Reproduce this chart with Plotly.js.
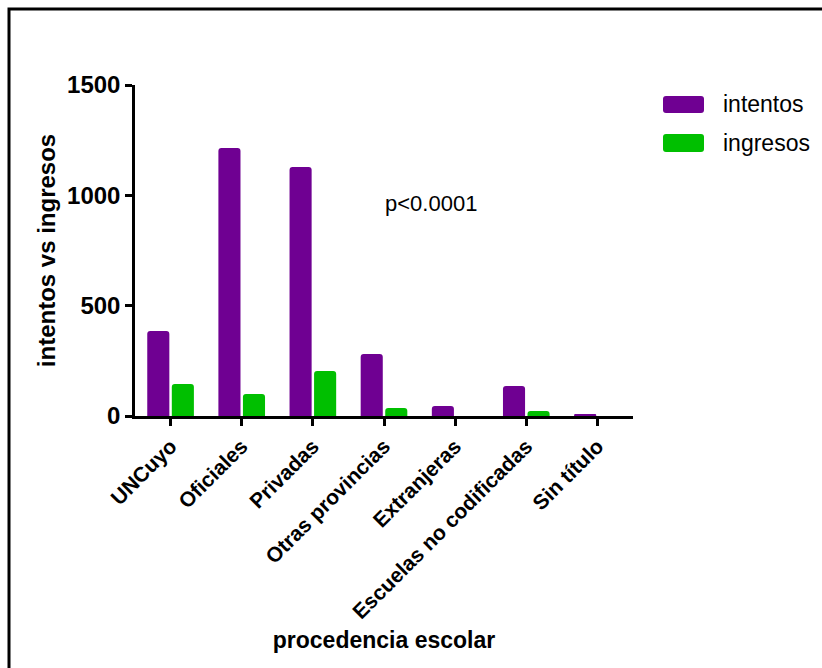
<!DOCTYPE html>
<html>
<head>
<meta charset="utf-8">
<script src="https://cdn.plot.ly/plotly-3.0.1.min.js"></script>
<style>
  html, body { margin: 0; padding: 0; background: #fff; }
  #chart { width: 822px; height: 668px; }
</style>
</head>
<body>
<div id="chart"></div>
<script>
const categories = ["UNCuyo", "Oficiales", "Privadas", "Otras provincias", "Extranjeras", "Escuelas no codificadas", "Sin título"];
const intentos = [385, 1215, 1128, 281, 45, 136, 8];
const ingresos = [145, 100, 204, 36, 0, 23, 0];
const seriesNames = ["intentos", "ingresos"];
const seriesColors = ["#6f0092", "#00bf00"];
const yTicks = [0, 500, 1000, 1500];

const FONT = "Liberation Sans, Arial, Helvetica, sans-serif";

const traces = [intentos, ingresos].map((vals, i) => ({
  type: "bar",
  name: seriesNames[i],
  x: categories,
  y: vals,
  marker: { color: seriesColors[i], cornerradius: 3, line: { width: 0 } },
  showlegend: false,
  hoverinfo: "x+y+name"
}));

// plot area geometry (px) used to convert decorative items to paper coords
const L = 135, R = 633, T = 85, B = 416;
const px = v => (v - L) / (R - L);
const py = v => (B - v) / (B - T);

function roundRect(x0, y0, x1, y1, r) {
  const rx = r / (R - L), ry = r / (B - T);
  const a = px(x0), b = px(x1), top = py(y0), bot = py(y1);
  return `M ${a + rx},${top} L ${b - rx},${top} Q ${b},${top} ${b},${top - ry} ` +
         `L ${b},${bot + ry} Q ${b},${bot} ${b - rx},${bot} L ${a + rx},${bot} ` +
         `Q ${a},${bot} ${a},${bot + ry} L ${a},${top - ry} Q ${a},${top} ${a + rx},${top} Z`;
}

const shapes = [
  // outer frame (left and top edges visible)
  { type: "path", xref: "paper", yref: "paper",
    path: `M ${px(9)},${py(672)} L ${px(9)},${py(9)} L ${px(826)},${py(9)}`,
    line: { color: "#000", width: 3 } },
  // legend swatches
  { type: "path", xref: "paper", yref: "paper", path: roundRect(663, 96, 704, 113, 3),
    fillcolor: seriesColors[0], line: { width: 0 } },
  { type: "path", xref: "paper", yref: "paper", path: roundRect(663, 134, 704, 152, 3),
    fillcolor: seriesColors[1], line: { width: 0 } }
];

const annotations = [
  { xref: "paper", yref: "paper", x: px(721), y: py(104), xanchor: "left", yanchor: "middle",
    text: seriesNames[0], showarrow: false, font: { family: FONT, size: 23, color: "#000" } },
  { xref: "paper", yref: "paper", x: px(721), y: py(143), xanchor: "left", yanchor: "middle",
    text: seriesNames[1], showarrow: false, font: { family: FONT, size: 23, color: "#000" } },
  { xref: "paper", yref: "paper", x: px(431), y: py(203), xanchor: "center", yanchor: "middle",
    text: "p<0.0001", showarrow: false, font: { family: FONT, size: 22, color: "#000" } }
];

const layout = {
  width: 822, height: 668,
  margin: { l: L, r: 822 - R, t: T, b: 668 - B, pad: 0 },
  paper_bgcolor: "#fff", plot_bgcolor: "#fff",
  font: { family: FONT, color: "#000" },
  barmode: "group",
  bargap: 0.31,
  bargroupgap: 0.1,
  showlegend: false,
  xaxis: {
    type: "category",
    range: [-0.5, 6.5],
    showline: true, linecolor: "#000", linewidth: 2.5,
    ticks: "outside", ticklen: 7, tickwidth: 2.5, tickcolor: "#000",
    tickangle: -45,
    tickfont: { family: FONT, size: 21, weight: "bold", color: "#000" },
    showgrid: false, zeroline: false,
    automargin: false,
    title: { text: "procedencia escolar", standoff: 10,
             font: { family: FONT, size: 23, weight: "bold", color: "#000" } }
  },
  yaxis: {
    range: [0, 1500],
    tickvals: yTicks,
    ticktext: yTicks.map(String),
    showline: true, linecolor: "#000", linewidth: 2.5,
    ticks: "outside", ticklen: 7, tickwidth: 2.5, tickcolor: "#000",
    tickfont: { family: FONT, size: 24, weight: "bold", color: "#000" },
    showgrid: false, zeroline: false,
    automargin: false,
    title: { text: "intentos vs ingresos", standoff: 5,
             font: { family: FONT, size: 24, weight: "bold", color: "#000" } }
  },
  shapes: shapes,
  annotations: annotations
};

Plotly.newPlot("chart", traces, layout, { displayModeBar: false, responsive: false });
</script>
</body>
</html>
